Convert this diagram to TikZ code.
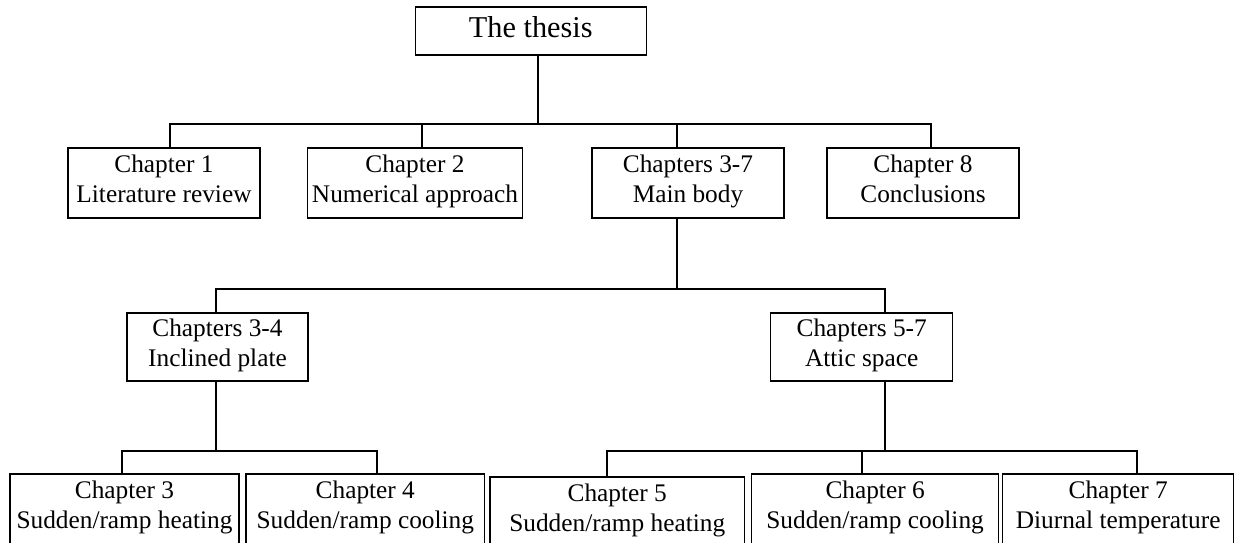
\documentclass[tikz,border=0pt]{standalone}
\usepackage{fontspec}
\setmainfont{Liberation Serif}
\usepackage{tikz}
\usetikzlibrary{calc,positioning}

\tikzset{
  chapbox/.style={draw, line width=1.1pt, align=center, inner sep=0pt,
    font=\fontsize{19}{22}\selectfont,
    execute at begin node=\strut, execute at end node=\strut},
  link/.style={line width=1.1pt}
}

\begin{document}
\begin{tikzpicture}[x=0.75pt, y=-0.75pt]
        % cadre de la page (pixels de la figure)
        \useasboundingbox (0,0) rectangle (1237,542);

        % la racine
        \node[chapbox, minimum width=173.25pt, minimum height=36pt, font=\fontsize{22.7}{26}\selectfont] (thesis) at (530.75,31) {The thesis};

        % premier niveau
        \node[chapbox, minimum width=144pt, minimum height=52.5pt] (ch1) at (164,183) {Chapter 1\\Literature review};
        \node[chapbox, minimum width=161.25pt, minimum height=52.5pt] (ch2) at (415,183) {Chapter 2\\Numerical approach};
        \node[chapbox, minimum width=144pt, minimum height=52.5pt] (ch37) at (688,183) {Chapters 3-7\\Main body};
        \node[chapbox, minimum width=144pt, minimum height=52.5pt] (ch8) at (923,183) {Chapter 8\\Conclusions};

        % deuxieme niveau
        \node[chapbox, minimum width=135.75pt, minimum height=51pt] (ch34) at (217.5,347) {Chapters 3-4\\Inclined plate};
        \node[chapbox, minimum width=136.5pt, minimum height=51pt] (ch57) at (861.7,347) {Chapters 5-7\\Attic space};

        % troisieme niveau (coupe en bas)
        \node[chapbox, minimum width=171.75pt, minimum height=52.5pt] (ch3) at (124.5,509) {Chapter 3\\Sudden/ramp heating};
        \node[chapbox, minimum width=179pt, minimum height=52.5pt] (ch4) at (365.3,509) {Chapter 4\\Sudden/ramp cooling};
        \node[chapbox, minimum width=191pt, minimum height=52.5pt] (ch5) at (617.25,512) {Chapter 5\\Sudden/ramp heating};
        \node[chapbox, minimum width=185.25pt, minimum height=52.5pt] (ch6) at (875.1,509) {Chapter 6\\Sudden/ramp cooling};
        \node[chapbox, minimum width=173.25pt, minimum height=52.5pt] (ch7) at (1118.2,509) {Chapter 7\\Diurnal temperature};

        % points de jonction
        \coordinate (j0) at (538,124);
        \coordinate (j1) at (677,289);
        \coordinate (j2) at (216,451);
        \coordinate (j3) at (885,451);

        % liaisons
        \draw[link] (thesis.south -| j0) -- (j0);
        \foreach \n/\x in {ch1/170, ch2/422, ch37/677, ch8/931}
          \draw[link] (\n.north -| \x,0) |- (j0);

        \draw[link] (ch37.south -| j1) -- (j1);
        \foreach \n/\x in {ch34/216, ch57/885}
          \draw[link] (\n.north -| \x,0) |- (j1);

        \draw[link] (ch34.south -| j2) -- (j2);
        \foreach \n/\x in {ch3/122, ch4/377}
          \draw[link] (\n.north -| \x,0) |- (j2);

        \draw[link] (ch57.south -| j3) -- (j3);
        \foreach \n/\x in {ch5/607, ch6/862, ch7/1137}
          \draw[link] (\n.north -| \x,0) |- (j3);
    \end{tikzpicture}
\end{document}
